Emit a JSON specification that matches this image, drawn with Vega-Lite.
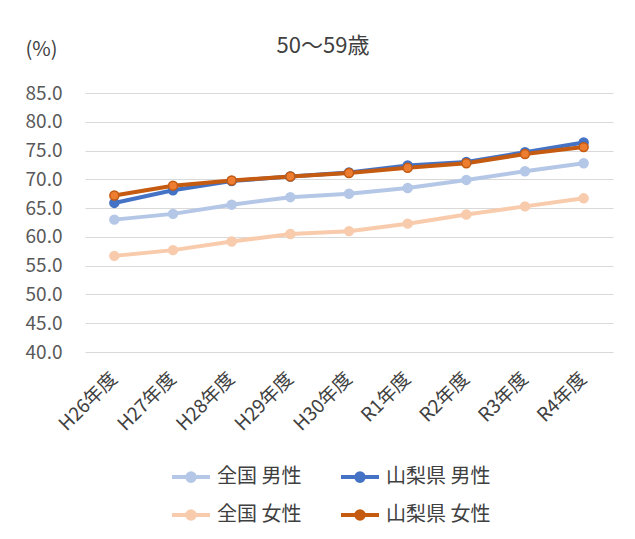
{
  "$schema": "https://vega.github.io/schema/vega-lite/v6.json",
  "width": 528,
  "height": 259,
  "autosize": {"type": "none"},
  "padding": {"left": 85, "top": 93, "right": 22, "bottom": 187},
  "background": "white",
  "config": {
    "view": {"stroke": null},
    "font": "Noto Sans CJK JP"
  },
  "title": {
    "text": "50〜59歳",
    "fontSize": 22,
    "fontWeight": "normal",
    "color": "#404040",
    "font": "Noto Sans CJK JP",
    "anchor": "middle",
    "dx": -26,
    "offset": -19
  },
  "data": {
    "values": [
      {"year": "H26年度", "series": "全国 男性", "value": 63.0},
      {"year": "H27年度", "series": "全国 男性", "value": 64.0},
      {"year": "H28年度", "series": "全国 男性", "value": 65.6},
      {"year": "H29年度", "series": "全国 男性", "value": 66.9},
      {"year": "H30年度", "series": "全国 男性", "value": 67.5},
      {"year": "R1年度", "series": "全国 男性", "value": 68.5},
      {"year": "R2年度", "series": "全国 男性", "value": 69.9},
      {"year": "R3年度", "series": "全国 男性", "value": 71.4},
      {"year": "R4年度", "series": "全国 男性", "value": 72.8},
      {"year": "H26年度", "series": "全国 女性", "value": 56.7},
      {"year": "H27年度", "series": "全国 女性", "value": 57.7},
      {"year": "H28年度", "series": "全国 女性", "value": 59.2},
      {"year": "H29年度", "series": "全国 女性", "value": 60.5},
      {"year": "H30年度", "series": "全国 女性", "value": 61.0},
      {"year": "R1年度", "series": "全国 女性", "value": 62.3},
      {"year": "R2年度", "series": "全国 女性", "value": 63.9},
      {"year": "R3年度", "series": "全国 女性", "value": 65.3},
      {"year": "R4年度", "series": "全国 女性", "value": 66.7},
      {"year": "H26年度", "series": "山梨県 男性", "value": 65.9},
      {"year": "H27年度", "series": "山梨県 男性", "value": 68.1},
      {"year": "H28年度", "series": "山梨県 男性", "value": 69.7},
      {"year": "H29年度", "series": "山梨県 男性", "value": 70.5},
      {"year": "H30年度", "series": "山梨県 男性", "value": 71.2},
      {"year": "R1年度", "series": "山梨県 男性", "value": 72.4},
      {"year": "R2年度", "series": "山梨県 男性", "value": 73.0},
      {"year": "R3年度", "series": "山梨県 男性", "value": 74.7},
      {"year": "R4年度", "series": "山梨県 男性", "value": 76.4},
      {"year": "H26年度", "series": "山梨県 女性", "value": 67.2},
      {"year": "H27年度", "series": "山梨県 女性", "value": 68.9},
      {"year": "H28年度", "series": "山梨県 女性", "value": 69.8},
      {"year": "H29年度", "series": "山梨県 女性", "value": 70.5},
      {"year": "H30年度", "series": "山梨県 女性", "value": 71.1},
      {"year": "R1年度", "series": "山梨県 女性", "value": 72.0},
      {"year": "R2年度", "series": "山梨県 女性", "value": 72.8},
      {"year": "R3年度", "series": "山梨県 女性", "value": 74.4},
      {"year": "R4年度", "series": "山梨県 女性", "value": 75.6}
    ]
  },
  "encoding": {
    "x": {
      "field": "year",
      "type": "ordinal",
      "sort": null,
      "scale": {"type": "point", "padding": 0.5},
      "axis": {
        "title": null,
        "labelAngle": -45,
        "labelFontSize": 19,
        "labelColor": "#404040",
        "labelPadding": 17,
        "labelOffset": -7,
        "ticks": false,
        "domain": false,
        "grid": false
      }
    },
    "y": {
      "field": "value",
      "type": "quantitative",
      "scale": {"domain": [40, 85], "nice": false, "zero": false},
      "axis": {
        "values": [40, 45, 50, 55, 60, 65, 70, 75, 80, 85],
        "format": ".1f",
        "labelFontSize": 19,
        "labelColor": "#595959",
        "labelPadding": 23,
        "ticks": false,
        "domain": false,
        "grid": true,
        "gridColor": "#D9D9D9",
        "gridWidth": 1,
        "title": "(%)",
        "titleAngle": 0,
        "titleFontSize": 20,
        "titleFontWeight": "normal",
        "titleColor": "#404040",
        "titleAlign": "left",
        "titleBaseline": "middle",
        "titleX": -60,
        "titleY": -44
      }
    },
    "stroke": {
      "field": "series",
      "type": "nominal",
      "scale": {
        "domain": ["全国 男性", "山梨県 男性", "全国 女性", "山梨県 女性"],
        "range": ["#B4C7E7", "#4472C4", "#F8CBAD", "#C55A11"]
      },
      "legend": {
        "title": null,
        "orient": "none",
        "legendX": 85,
        "legendY": 363,
        "columns": 2,
        "direction": "horizontal",
        "columnPadding": 31,
        "rowPadding": 5,
        "labelFontSize": 20,
        "labelColor": "#404040",
        "labelOffset": 5,
        "symbolType": "M-1,0L1,0M0.2,0A0.2,0.2,0,1,1,-0.2,0A0.2,0.2,0,1,1,0.2,0Z",
        "symbolSize": 1444,
        "symbolStrokeWidth": 4,
        "encode": {
          "symbols": {
            "update": {
              "fill": {"scale": "fill", "field": "value"},
              "stroke": {"scale": "stroke", "field": "value"}
            }
          }
        }
      }
    }
  },
  "layer": [
    {
      "mark": {"type": "line", "strokeWidth": 4}
    },
    {
      "mark": {"type": "point", "filled": true, "size": 80, "strokeWidth": 1.5, "opacity": 1},
      "encoding": {
        "fill": {
          "field": "series",
          "type": "nominal",
          "scale": {
            "domain": ["全国 男性", "山梨県 男性", "全国 女性", "山梨県 女性"],
            "range": ["#B4C7E7", "#4472C4", "#F8CBAD", "#ED7D31"]
          },
          "legend": null
        }
      }
    }
  ]
}
